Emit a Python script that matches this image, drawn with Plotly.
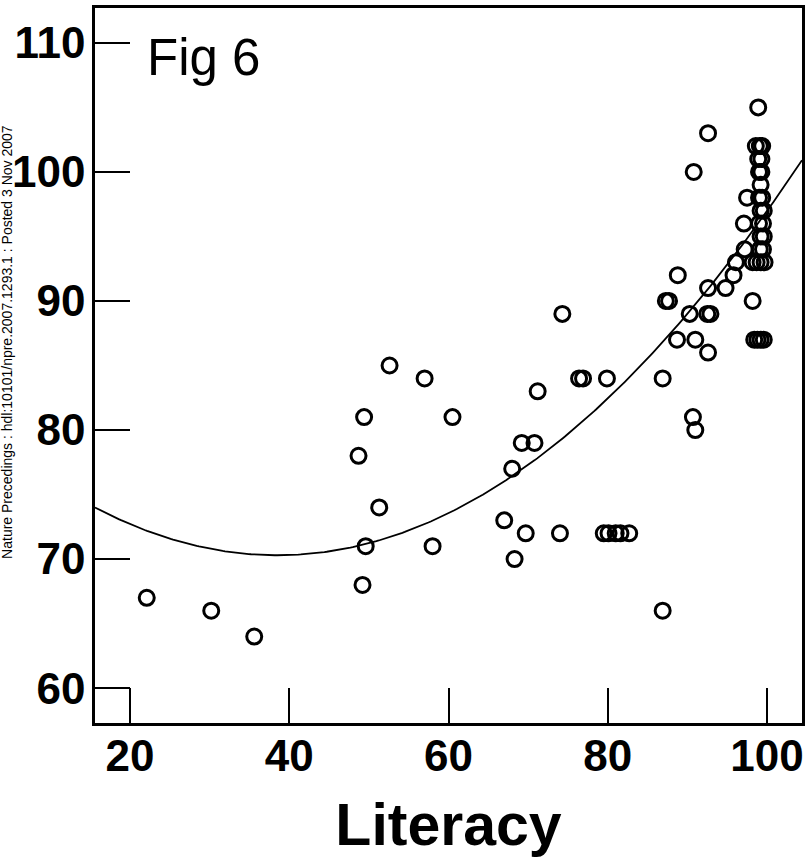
import numpy as np
import plotly.graph_objects as go

# Data
literacy = [22.1, 30.2, 35.6, 48.7, 49.4, 49.2, 49.6, 52.6, 51.3, 57.0, 58.0, 60.5,
            67.0, 68.0, 68.3, 69.2, 70.8, 69.7, 71.2, 74.3, 74.0, 76.4, 76.9, 79.9,
            79.5, 80.1, 81.0, 81.6, 82.7, 86.9, 86.9, 87.3, 87.7, 88.8, 88.7, 90.3,
            90.8, 90.7, 91.0, 91.0, 92.6, 92.6, 92.5, 92.9, 92.6, 94.8, 95.8, 96.1,
            97.2, 97.1, 97.5, 98.2,
            98.9, 98.6, 99.1, 99.4, 98.9, 99.3, 99.0, 99.3, 99.2, 99.0, 99.4, 99.2,
            99.6, 99.0, 99.5, 99.2, 99.6, 99.1, 99.5, 98.2, 98.7, 99.2, 99.7, 98.4,
            98.8, 99.2, 99.6]
iq = [67, 66, 64, 78, 81, 68, 71, 85, 74, 84, 71, 81,
      73, 77, 70, 79, 79, 72, 83, 89, 72, 84, 84, 84,
      72, 72, 72, 72, 72, 66, 84, 90, 90, 92, 87, 89,
      100, 81, 80, 87, 103, 91, 89, 89, 86, 91, 92, 93,
      94, 96, 98, 90,
      105, 102, 102, 102, 101, 101, 100, 100, 99, 98, 98, 97,
      97, 96, 96, 95, 95, 94, 94, 93, 93, 93, 93, 87,
      87, 87, 87]

# Quadratic fit coefficients: y = a*x^2 + b*x + c
fit_a = 0.00705
fit_b = -0.5429
fit_c = 80.75

x_range = [15.6, 104.4]
y_range = [57.3, 112.7]
x_ticks = [20, 40, 60, 80, 100]
y_ticks = [60, 70, 80, 90, 100, 110]

fx = np.linspace(x_range[0], x_range[1], 300)
fy = fit_a * fx ** 2 + fit_b * fx + fit_c

fig = go.Figure()
fig.add_trace(go.Scatter(x=fx, y=fy, mode="lines",
                         line=dict(color="black", width=1.8), hoverinfo="skip",
                         showlegend=False))
fig.add_trace(go.Scatter(x=literacy, y=iq, mode="markers",
                         marker=dict(symbol="circle-open", size=15, color="black",
                                     line=dict(width=3, color="black")),
                         showlegend=False))

font_family = "Liberation Sans, Arial, sans-serif"

fig.update_layout(
    width=811, height=858,
    margin=dict(l=95, r=9, t=8, b=135, autoexpand=False),
    paper_bgcolor="white", plot_bgcolor="white",
    font=dict(family=font_family, color="black"),
    xaxis=dict(range=x_range, tickvals=x_ticks, ticks="inside", ticklen=35,
               tickwidth=2, tickcolor="black", showline=True, mirror=True,
               linewidth=2.5, linecolor="black", showgrid=False, zeroline=False,
               tickfont=dict(size=44, family=font_family, weight="bold"),
               ticklabelstandoff=-8,
               title=dict(text="<b>Literacy</b>", font=dict(size=59, family=font_family),
                          standoff=26)),
    yaxis=dict(range=y_range, tickvals=y_ticks, ticks="inside", ticklen=35,
               tickwidth=2, tickcolor="black", showline=True, mirror=True,
               linewidth=2.5, linecolor="black", showgrid=False, zeroline=False,
               tickfont=dict(size=44, family=font_family, weight="bold"),
               ticklabelstandoff=-2),
    annotations=[
        dict(text="Fig 6", xref="paper", yref="paper", x=0.071, y=0.931,
             xanchor="left", yanchor="middle", showarrow=False,
             font=dict(size=51, family=font_family, color="black")),
        dict(text="Nature Precedings : hdl:10101/npre.2007.1293.1 : Posted 3 Nov 2007",
             xref="paper", yref="paper", x=-0.1245, y=0.533, textangle=-90,
             xanchor="center", yanchor="middle", showarrow=False,
             font=dict(size=14, family=font_family, color="black")),
    ],
)

fig.write_html("out.html",
               config={"displayModeBar": False},
               post_script="document.body.style.margin='0px';"
                           "document.body.style.overflow='hidden';")
